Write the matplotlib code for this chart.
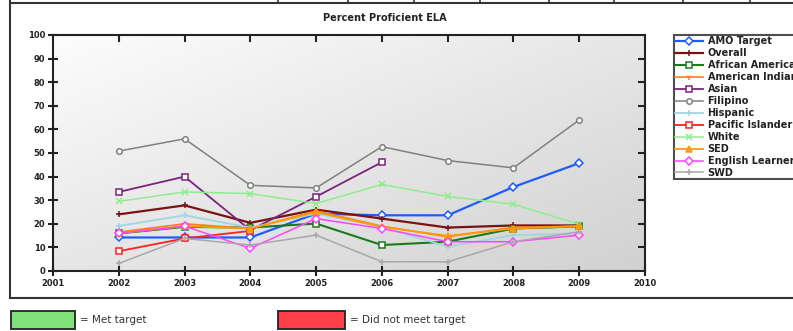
import matplotlib
matplotlib.use('Agg')
import matplotlib.pyplot as plt
import numpy as np
from matplotlib.lines import Line2D
from matplotlib.patches import Rectangle

plt.rcParams['font.family'] = ['DejaVu Sans']

W, H = 793, 331

years = [2002, 2003, 2004, 2005, 2006, 2007, 2008, 2009]
x_ticks = list(range(2001, 2011))
y_ticks = list(range(0, 101, 10))

# 每条线的数值（从图上估出来的）
amo_target = [14.2, 14.2, 14.2, 24.3, 23.6, 23.6, 35.6, 45.7]
overall = [24.0, 27.8, 20.4, 26.0, 22.2, 18.4, 19.3, 19.3]
african_american = [15.9, 18.7, 18.4, 20.1, 11.0, 12.4, 18.0, 18.9]
american_indian = [16.5, 20.0, 18.0, 25.5, 19.0, 14.5, 18.5, 19.0]
asian = [33.5, 40.0, 17.3, 31.5, 46.1, None, None, None]
filipino = [50.8, 56.0, 36.3, 35.2, 52.7, 46.8, 43.7, 64.0]
hispanic = [19.1, 23.6, 18.4, 24.3, 18.7, 10.3, 15.2, 15.9]
pacific_islander = [8.4, 13.8, 17.0, None, None, None, None, None]
white = [29.5, 33.5, 32.8, 28.6, 36.7, 31.6, 28.3, 19.8]
sed = [16.0, 19.0, 18.0, 25.0, 18.7, 14.9, 18.0, 19.0]
english_learner = [16.0, 19.0, 9.6, 22.2, 18.0, 12.4, 12.4, 15.2]
swd = [3.2, 13.8, 11.0, 15.2, 3.9, 3.9, 12.4, 16.6]

series_names = ['AMO Target', 'Overall', 'African American', 'American Indian',
                'Asian', 'Filipino', 'Hispanic', 'Pacific Islander', 'White',
                'SED', 'English Learner', 'SWD']
series_vals = [amo_target, overall, african_american, american_indian, asian,
               filipino, hispanic, pacific_islander, white, sed,
               english_learner, swd]
# 颜色、marker、是否空心、线宽
styles = [
    ('#1f5cff', 'D', True, 1.6),
    ('#7a1212', '+', False, 1.6),
    ('#1b7a1b', 's', True, 1.5),
    ('#ff7f1a', '1', False, 1.2),
    ('#7b237b', 's', True, 1.3),
    ('#808080', 'o', True, 1.1),
    ('#9fd6e2', '+', False, 1.3),
    ('#ff2020', 's', True, 1.3),
    ('#8eee8e', 'x', False, 1.1),
    ('#ff9a00', '^', False, 1.3),
    ('#ff44ff', 'D', True, 1.1),
    ('#a8a8a8', '+', False, 1.1),
]


def fx(px):
    return px / W


def fy(py):
    return 1 - py / H


fig = plt.figure(figsize=(W / 100, H / 100), dpi=100)

# 外框和上面那排表格线
fig.add_artist(Line2D([fx(10), fx(W)], [fy(3), fy(3)], color='#333333', lw=1.5))
fig.add_artist(Line2D([fx(10), fx(W)], [fy(298), fy(298)], color='#333333', lw=1.5))
fig.add_artist(Line2D([fx(10), fx(10)], [fy(0), fy(298)], color='#333333', lw=1.5))
for vx in [278, 348, 414, 480, 549, 614, 683, 750]:
    fig.add_artist(Line2D([fx(vx), fx(vx)], [fy(0), fy(3)], color='#333333', lw=1.2))

fig.text(fx(385), fy(18), 'Percent Proficient ELA', ha='center', va='center',
         fontsize=7, fontweight='bold', color='#222222')

ax = fig.add_axes([fx(53), fy(271), fx(645) - fx(53), fy(35) - fy(271)])

# 渐变背景：左上接近白，右下浅灰
gx, gy = np.meshgrid(np.linspace(0, 1, 200), np.linspace(0, 1, 200))
t = (gx + gy) / 2
shade = 0.99 - 0.17 * t
rgb = np.dstack([shade, shade, shade])
ax.imshow(rgb, extent=[0, 1, 0, 1], transform=ax.transAxes,
          aspect='auto', zorder=0, interpolation='bilinear')

handles = []
for name, vals, (c, m, hollow, lw) in zip(series_names, series_vals, styles):
    xs = [y for y, v in zip(years, vals) if v is not None]
    ys = [v for v in vals if v is not None]
    ln, = ax.plot(xs, ys, color=c, lw=lw, marker=m, markersize=4,
                  markerfacecolor='white' if hollow else c,
                  markeredgecolor=c, markeredgewidth=1.1, zorder=3)
    handles.append(ln)

ax.set_xlim(2001, 2010)
ax.set_ylim(0, 100)
ax.set_xticks(x_ticks)
ax.set_yticks(y_ticks)
ax.tick_params(axis='both', labelsize=6, width=1.5, length=7,
               direction='inout', colors='#222222', pad=2)
for lab in ax.get_xticklabels() + ax.get_yticklabels():
    lab.set_fontweight('bold')
for sp in ax.spines.values():
    sp.set_linewidth(1.5)
    sp.set_color('#222222')
# 上边和右边的刻度朝里
for tk in ax.xaxis.get_major_ticks():
    tk.tick2line.set_visible(True)
    tk.tick2line.set_marker(3)
    tk.tick2line.set_markersize(5)
for tk in ax.yaxis.get_major_ticks():
    tk.tick2line.set_visible(True)
    tk.tick2line.set_marker(0)
    tk.tick2line.set_markersize(5)
ax.xaxis.get_major_ticks()[0].tick2line.set_visible(False)
ax.xaxis.get_major_ticks()[-1].tick2line.set_visible(False)
ax.yaxis.get_major_ticks()[0].tick2line.set_visible(False)
ax.yaxis.get_major_ticks()[-1].tick2line.set_visible(False)

# 图例跟原图一样伸出右边界
leg = fig.legend(handles, series_names, loc='upper left',
                 bbox_to_anchor=(fx(674), fy(35)), fontsize=7,
                 frameon=True, fancybox=False, edgecolor='#222222',
                 borderpad=0.15, labelspacing=0.2, handlelength=2.8,
                 handletextpad=0.5, borderaxespad=0)
leg.get_frame().set_linewidth(1.5)
for txt in leg.get_texts():
    txt.set_fontweight('bold')
    txt.set_color('#222222')

# 底部图例方块
fig.add_artist(Rectangle((fx(11), fy(329)), fx(75) - fx(11), fy(311) - fy(329),
                         facecolor='#80e27a', edgecolor='#222222', lw=1.3))
fig.text(fx(80), fy(320), '= Met target', va='center', fontsize=7.5,
         color='#333333')
fig.add_artist(Rectangle((fx(278), fy(329)), fx(345) - fx(278), fy(311) - fy(329),
                         facecolor='#ff4048', edgecolor='#222222', lw=1.3))
fig.text(fx(350), fy(320), '= Did not meet target', va='center', fontsize=7.5,
         color='#333333')

fig.savefig('out.png', dpi=100)
